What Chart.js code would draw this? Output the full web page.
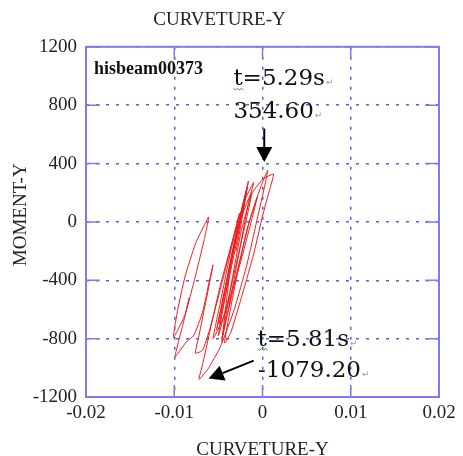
<!DOCTYPE html>
<html>
<head>
<meta charset="utf-8">
<script src="https://cdn.jsdelivr.net/npm/chart.js@4.4.1/dist/chart.umd.min.js"></script>
<style>
  html, body { margin: 0; padding: 0; background: #fff; }
  #grafica { display: block; }
</style>
</head>
<body>
<canvas id="grafica" width="463" height="456"></canvas>
<script>
// datos (curvatura x 1e-3, momento)
const curvatura = [
  -3.0, -2.2, -1.6, -2.2, -3.4, -4.6, -5.2, -4.8, -3.8, -2.8,
  -1.8, -2.4, -3.6, -4.6, -4.2, -3.4, -2.4, -1.2, -1.6, -2.8,
  -4.0, -5.0, -4.6, -3.6, -2.6, -1.7, -2.1, -3.0, -4.2, -4.9,
  -4.5, -3.4, -2.0, -1.0, -1.6, -2.8, -4.0, -4.6, -4.0, -2.8,
  -1.4, -0.2, 0.6, 0.3, -0.6, -1.8, -3.2, -4.8, -6.2, -7.2,
  -6.8, -6.0, -4.8, -3.2, -1.4, 0.0, 1.25, 0.8, 0.0, -1.0,
  -2.4, -3.6, -4.3, -3.8, -3.0, -1.8, -0.6, -1.2, -2.6, -4.4,
  -5.6, -4.8, -3.6, -2.6, -3.2, -4.6, -6.0, -6.8, -7.6, -7.2,
  -6.4, -5.6, -6.0, -6.8, -7.8, -8.6, -9.9, -9.0, -8.3, -8.8,
  -10.1, -9.6, -8.8, -7.6, -6.1, -6.6, -7.8, -8.6
];
const momento = [
  -200, 60, 280, 100, -220, -560, -740, -620, -320, -20,
  226, 40, -300, -820, -660, -380, -60, 200, 80, -240,
  -560, -780, -640, -300, 20, 250, 120, -160, -500, -700,
  -560, -200, 150, 270, 130, -260, -640, -800, -640, -320,
  20, 240, 354.6, 260, 20, -300, -600, -860, -1010, -1079.2,
  -980, -760, -440, -90, 180, 290, 328, 220, 40, -220,
  -520, -760, -830, -650, -400, -60, 170, 20, -300, -650,
  -800, -560, -200, 60, -80, -420, -740, -880, -900, -780,
  -540, -294, -400, -620, -780, -820, -923, -700, -520, -640,
  -793, -600, -380, -150, 34, -120, -420, -600
];

const xTicks = [-0.02, -0.01, 0, 0.01, 0.02];
const xTickText = ['-0.02', '-0.01', '0', '0.01', '0.02'];
const yTicks = [-1200, -800, -400, 0, 400, 800, 1200];
const yTickText = ['-1200', '-800', '-400', '0', '400', '800', '1200'];

// textos y flechas de la grafica (en coordenadas de datos)
const etiquetas = [
  { texto: 't=5.29s', x: -0.0033, y: 935, marca: true },
  { texto: '354.60', x: -0.0033, y: 711, marca: false },
  { texto: 't=5.81s', x: -0.00057, y: -848, marca: true },
  { texto: '-1079.20', x: -0.0005, y: -1062, marca: false }
];
const flechas = [
  { x1: 0.0002, y1: 640, x2: 0.0002, y2: 410 },
  { x1: -0.001, y1: -951, x2: -0.0061, y2: -1074 }
];

const azulBorde = '#7b7bf2';
const azulGrid = '#5a5ae8';
const serif = 'Liberation Serif';

const puntos = curvatura.map((c, i) => ({ x: c / 1000, y: momento[i] }));

function textoTick(lista, textos, v) {
  const i = lista.findIndex(t => Math.abs(t - v) < 1e-9);
  return i === -1 ? '' : textos[i];
}

// marco solido, marcas interiores y anotaciones
const marcoPlugin = {
  id: 'marco',
  afterDraw(chart) {
    const { ctx, chartArea: a } = chart;
    const xs = chart.scales.x, ys = chart.scales.y;
    ctx.save();
    ctx.strokeStyle = azulBorde;
    ctx.lineWidth = 2;
    ctx.strokeRect(a.left, a.top, a.right - a.left, a.bottom - a.top);

    ctx.lineWidth = 1.5;
    ctx.beginPath();
    xTicks.forEach(t => {
      const px = xs.getPixelForValue(t);
      ctx.moveTo(px, a.top); ctx.lineTo(px, a.top + 12);
      ctx.moveTo(px, a.bottom); ctx.lineTo(px, a.bottom - 12);
    });
    yTicks.forEach(t => {
      const py = ys.getPixelForValue(t);
      ctx.moveTo(a.left, py); ctx.lineTo(a.left + 14, py);
      ctx.moveTo(a.right, py); ctx.lineTo(a.right - 14, py);
    });
    ctx.stroke();

    // nombre del elemento
    ctx.fillStyle = '#111';
    ctx.font = 'bold 18px "' + serif + '"';
    ctx.textBaseline = 'alphabetic';
    ctx.fillText('hisbeam00373', xs.getPixelForValue(-0.0191), ys.getPixelForValue(1012));

    // etiquetas de tiempo y valor
    etiquetas.forEach(e => {
      const px = xs.getPixelForValue(e.x);
      const py = ys.getPixelForValue(e.y);
      ctx.font = '23px "DejaVu Serif"';
      ctx.fillStyle = '#111';
      ctx.fillText(e.texto, px, py);
      const w = ctx.measureText(e.texto).width;
      ctx.font = '9px "DejaVu Sans"';
      ctx.fillStyle = '#999';
      ctx.fillText('\u21B5', px + w + 1, py);
      if (e.marca) {
        ctx.strokeStyle = '#3c9c3c';
        ctx.lineWidth = 1;
        ctx.beginPath();
        for (let k = 0; k <= 10; k += 2) {
          ctx.lineTo(px + k, py + 3 + (k % 4 === 0 ? 0 : 1.5));
        }
        ctx.stroke();
      }
    });

    // flechas
    ctx.strokeStyle = '#000';
    ctx.fillStyle = '#000';
    flechas.forEach(f => {
      const x1 = xs.getPixelForValue(f.x1), y1 = ys.getPixelForValue(f.y1);
      const x2 = xs.getPixelForValue(f.x2), y2 = ys.getPixelForValue(f.y2);
      const ang = Math.atan2(y2 - y1, x2 - x1);
      const largo = 15, ancho = 8;
      const bx = x2 - largo * Math.cos(ang), by = y2 - largo * Math.sin(ang);
      ctx.lineWidth = 2;
      ctx.beginPath();
      ctx.moveTo(x1, y1); ctx.lineTo(bx, by);
      ctx.stroke();
      ctx.beginPath();
      ctx.moveTo(x2, y2);
      ctx.lineTo(bx + ancho * Math.sin(ang), by - ancho * Math.cos(ang));
      ctx.lineTo(bx - ancho * Math.sin(ang), by + ancho * Math.cos(ang));
      ctx.closePath();
      ctx.fill();
    });
    ctx.restore();
  }
};

const ctx = document.getElementById('grafica').getContext('2d');
const grafica = new Chart(ctx, {
  type: 'scatter',
  data: {
    datasets: [{
      label: 'hisbeam00373',
      data: puntos,
      showLine: true,
      borderColor: '#ee1a1a',
      borderWidth: 1,
      pointRadius: 0,
      tension: 0.15,
      fill: false
    }]
  },
  options: {
    responsive: false,
    animation: false,
    layout: { padding: { left: 0, right: 24, top: 0, bottom: 0 } },
    plugins: {
      legend: { display: false },
      tooltip: { enabled: false },
      title: {
        display: true,
        text: 'CURVETURE-Y',
        color: '#222',
        font: { family: serif, size: 19, weight: 'normal', lineHeight: 1.2 },
        padding: { top: 9, bottom: 15 }
      }
    },
    scales: {
      x: {
        type: 'linear',
        min: -0.02,
        max: 0.02,
        afterFit(scale) { scale.height = 59; },
        afterBuildTicks(scale) { scale.ticks = xTicks.map(v => ({ value: v })); },
        ticks: {
          color: '#222',
          padding: 5,
          maxRotation: 0,
          font: { family: serif, size: 19 },
          callback: v => textoTick(xTicks, xTickText, v)
        },
        grid: { color: azulGrid, lineWidth: 1.5, drawTicks: false },
        border: { display: false, dash: [3, 7] },
        title: {
          display: true,
          text: 'CURVETURE-Y',
          color: '#222',
          font: { family: serif, size: 19, lineHeight: 0.6 },
          padding: { top: 0, bottom: 0 }
        }
      },
      y: {
        type: 'linear',
        min: -1200,
        max: 1200,
        afterFit(scale) { scale.width = 86; },
        afterBuildTicks(scale) { scale.ticks = yTicks.map(v => ({ value: v })); },
        ticks: {
          color: '#222',
          padding: 9,
          font: { family: serif, size: 19 },
          callback: v => textoTick(yTicks, yTickText, v)
        },
        grid: { color: azulGrid, lineWidth: 1.5, drawTicks: false },
        border: { display: false, dash: [3, 7] },
        title: {
          display: true,
          text: '\u00A0\u00A0\u00A0MOMENT-Y',
          color: '#222',
          font: { family: serif, size: 19, lineHeight: 1.2 },
          padding: { top: 10, bottom: 0 }
        }
      }
    }
  },
  plugins: [marcoPlugin]
});
</script>
</body>
</html>
